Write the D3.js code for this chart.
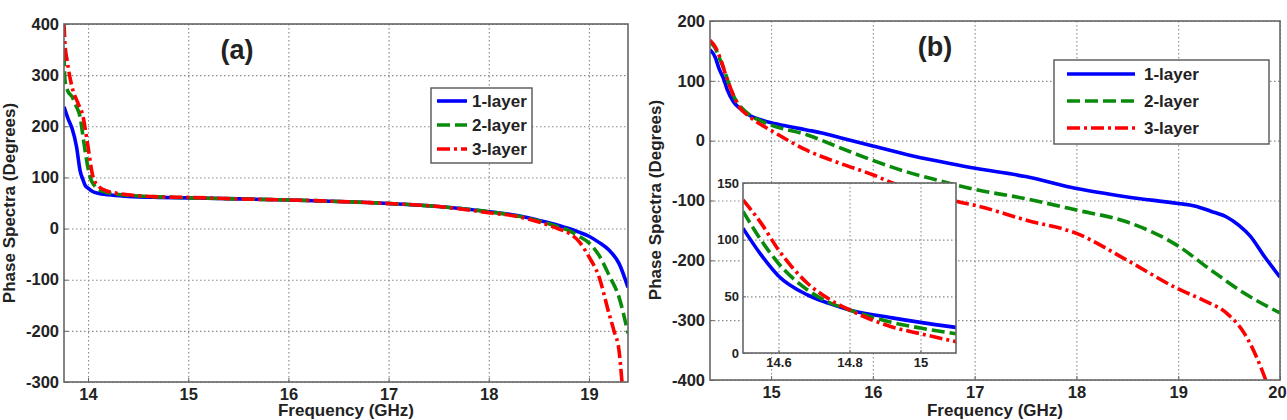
<!DOCTYPE html>
<html><head><meta charset="utf-8">
<script src="https://cdn.jsdelivr.net/npm/d3@7"></script>
<style>
html,body{margin:0;padding:0;background:#fff;}
svg{display:block;font-family:"Liberation Sans",Arial,sans-serif;font-weight:bold;}
</style></head>
<body><svg id="c" width="1287" height="420"></svg>
<script>
// ---------- DATA ----------
const seriesNames = ["1-layer", "2-layer", "3-layer"];

// Panel (a)
const freqA1 = [13.76,13.8,13.84,13.885,13.92,13.95,13.97,14.0,14.05,14.1,14.2,14.4,14.7,15.0,15.5,16.0,16.5,17.0,17.5,18.0,18.3,18.5,18.7,18.8,18.9,19.0,19.1,19.2,19.3,19.39];
const phaseA1 = [238,215,196,160,114,95,85,79,72,69,66,63,61,60,58,56,53,49,43,33,25,16,6,0,-7,-15,-27,-42,-68,-115];
const freqA2 = [13.76,13.77,13.8,13.84,13.88,13.92,13.95,13.97,14.0,14.02,14.06,14.1,14.2,14.4,14.7,15.0,15.5,16.0,16.5,17.0,17.5,18.0,18.3,18.5,18.7,18.8,18.9,19.0,19.1,19.2,19.3,19.39];
const phaseA2 = [343,290,268,258,240,219,180,153,118,101,85,77,70,65,62,60,58,56,53,49,43,33,24,15,3,-4,-15,-28,-52,-91,-134,-205];
const freqA3 = [13.76,13.77,13.79,13.84,13.9,13.95,13.98,14.0,14.05,14.11,14.18,14.26,14.4,14.7,15.0,15.5,16.0,16.5,17.0,17.5,18.0,18.3,18.5,18.7,18.8,18.9,19.0,19.1,19.2,19.25,19.3,19.33];
const phaseA3 = [400,360,330,277,245,219,185,160,101,82,74,70,66,62,61,58,56,53,49,43,31,23,13,-1,-9,-25,-55,-94,-166,-200,-238,-300];

// Panel (b)
const freqB1 = [14.4,14.45,14.49,14.53,14.57,14.63,14.7,14.79,14.9,15.0,15.2,15.35,15.5,15.68,16.0,16.33,16.66,16.96,17.5,18.0,18.5,19.0,19.16,19.32,19.48,19.6,19.71,19.84,20.0];
const phaseB1 = [152,140,120,105,85,65,53,42,35,30,23,18,13,5,-9,-23,-35,-45,-60,-80,-94,-105,-109,-118,-128,-142,-160,-192,-228];
const freqB2 = [14.4,14.45,14.5,14.53,14.58,14.63,14.7,14.79,14.9,15.0,15.35,15.68,16.0,16.33,16.66,16.96,17.5,18.0,18.5,18.99,19.32,19.65,20.0];
const phaseB2 = [165,155,135,123,98,75,57,43,33,26,10,-12,-33,-52,-67,-80,-97,-116,-136,-175,-216,-255,-288];
const freqB3 = [14.4,14.45,14.5,14.56,14.62,14.69,14.79,14.9,15.0,15.35,15.68,16.0,16.2,16.5,16.86,17.0,17.51,18.0,18.5,18.99,19.25,19.48,19.65,19.81,19.86];
const phaseB3 = [168,157,138,107,80,56,40,27,17,-16,-38,-57,-71,-86,-103,-108,-133,-155,-200,-247,-267,-289,-322,-378,-400];

// Inset of panel (b)
const freqI = [14.5,14.55,14.6,14.68,14.74,14.8,14.92,15.0,15.1];
const phaseI1 = [110,87,68,51.5,44,38,31,27,22.6];
const phaseI2 = [125,100,79,56,45,38,27,22,17];
const phaseI3 = [135,115,91,62,48,38,23,17,10];

// Ticks
const xTicksA = [14,15,16,17,18,19];
const yTicksA = [-300,-200,-100,0,100,200,300,400];
const xTicksB = [15,16,17,18,19,20];
const yTicksB = [-400,-300,-200,-100,0,100,200];
const xTicksI = [14.6,14.8,15];
const yTicksI = [0,50,100,150];

// ---------- STYLE ----------
const colors = ["#0000ff", "#0a8a0a", "#ff0000"];
const dashes = [null, "13,5", "13,4,3,4"];
const lw = 3.6;
const textCol = "#222";
const frameCol = "#666";
const gridCol = "#8a8a8a";
const fmt = d => String(d);

const svg = d3.select("#c");
const defs = svg.append("defs");
let clipId = 0;

function addLines(g, x, y, data, w, h) {
  const id = "clip" + (clipId++);
  defs.append("clipPath").attr("id", id).append("rect").attr("width", w).attr("height", h);
  const cg = g.append("g").attr("clip-path", `url(#${id})`);
  const line = d3.line().x(d => x(d[0])).y(d => y(d[1])).curve(d3.curveMonotoneX);
  data.forEach((s, i) => {
    cg.append("path").datum(s).attr("d", line).attr("fill", "none")
      .attr("stroke", colors[i]).attr("stroke-width", lw)
      .attr("stroke-dasharray", dashes[i]).attr("stroke-linejoin", "round");
  });
}

function panel(o) {
  const w = o.x1 - o.x0, h = o.y1 - o.y0;
  const g = svg.append("g").attr("transform", `translate(${o.x0},${o.y0})`);
  const x = d3.scaleLinear().domain(o.xd).range([0, w]);
  const y = d3.scaleLinear().domain(o.yd).range([h, 0]);
  g.append("rect").attr("width", w).attr("height", h).attr("fill", "#fff");
  // grid
  const gx = g.append("g").call(d3.axisBottom(x).tickValues(o.xt).tickSize(h).tickFormat(""));
  gx.select(".domain").remove();
  gx.selectAll("line").attr("stroke", gridCol).attr("stroke-dasharray", "1.5,2.5").attr("stroke-width", 1.1);
  const gy = g.append("g").call(d3.axisRight(y).tickValues(o.yt).tickSize(w).tickFormat(""));
  gy.select(".domain").remove();
  gy.selectAll("line").attr("stroke", gridCol).attr("stroke-dasharray", "1.5,2.5").attr("stroke-width", 1.1);
  // axes labels
  const ax = g.append("g").attr("transform", `translate(0,${h})`)
    .call(d3.axisBottom(x).tickValues(o.xt).tickSize(-o.tl).tickPadding(o.xpad).tickFormat(fmt));
  ax.select(".domain").remove();
  ax.selectAll("line").attr("stroke", frameCol);
  ax.selectAll("text").attr("fill", textCol).style("font-size", o.fs + "px").style("font-weight", "bold")
    .style("font-family", '"Liberation Sans",Arial,sans-serif');
  if (o.lastDx) ax.selectAll("text").filter((d, i, n) => i === n.length - 1).attr("dx", o.lastDx);
  const ay = g.append("g").call(d3.axisLeft(y).tickValues(o.yt).tickSize(-o.tl).tickPadding(o.ypad).tickFormat(fmt));
  ay.select(".domain").remove();
  ay.selectAll("line").attr("stroke", frameCol);
  ay.selectAll("text").attr("fill", textCol).style("font-size", o.fs + "px").style("font-weight", "bold")
    .style("font-family", '"Liberation Sans",Arial,sans-serif');
  addLines(g, x, y, o.data, w, h);
  g.append("rect").attr("width", w).attr("height", h).attr("fill", "none")
    .attr("stroke", frameCol).attr("stroke-width", 1.6);
  return {g, x, y, w, h};
}

function legend(lx, ly, lw2, lh, rows, lineX0, lineX1, textX) {
  const g = svg.append("g");
  g.append("rect").attr("x", lx).attr("y", ly).attr("width", lw2).attr("height", lh)
    .attr("fill", "#fff").attr("stroke", "#555").attr("stroke-width", 1.4);
  seriesNames.forEach((n, i) => {
    g.append("line").attr("x1", lineX0).attr("x2", lineX1).attr("y1", rows[i]).attr("y2", rows[i])
      .attr("stroke", colors[i]).attr("stroke-width", lw).attr("stroke-dasharray", dashes[i]);
    g.append("text").attr("x", textX).attr("y", rows[i]).attr("dy", "0.36em")
      .attr("fill", textCol).style("font-size", "17px").text(n);
  });
}

// ---------- PANEL (a) ----------
const A = panel({x0: 64, x1: 628, y0: 24, y1: 382, xd: [13.76, 19.39], yd: [-300, 400],
  xt: xTicksA, yt: yTicksA, tl: 4, fs: 16.5, xpad: 6, ypad: 5,
  data: [d3.zip(freqA1, phaseA1), d3.zip(freqA2, phaseA2), d3.zip(freqA3, phaseA3)]});
svg.append("text").attr("x", 237).attr("y", 59).attr("text-anchor", "middle")
  .attr("fill", textCol).style("font-size", "27px").text("(a)");
legend(431, 88, 101, 75, [101, 125, 149], 437, 467, 472);
svg.append("text").attr("x", 346).attr("y", 415.5).attr("text-anchor", "middle")
  .attr("fill", textCol).style("font-size", "17px").text("Frequency (GHz)");
svg.append("text").attr("transform", "translate(15,203) rotate(-90)").attr("text-anchor", "middle")
  .attr("fill", textCol).style("font-size", "17px").text("Phase Spectra (Degrees)");

// ---------- PANEL (b) ----------
const B = panel({x0: 710, x1: 1280, y0: 21, y1: 380, xd: [14.4, 20], yd: [-400, 200],
  xt: xTicksB, yt: yTicksB, tl: 4, fs: 16.5, xpad: 6, ypad: 5, lastDx: -3,
  data: [d3.zip(freqB1, phaseB1), d3.zip(freqB2, phaseB2), d3.zip(freqB3, phaseB3)]});
svg.append("text").attr("x", 935).attr("y", 56).attr("text-anchor", "middle")
  .attr("fill", textCol).style("font-size", "27px").text("(b)");
legend(1054, 60, 215, 84, [74, 101, 128], 1067, 1135, 1144);
svg.append("text").attr("x", 995).attr("y", 415.5).attr("text-anchor", "middle")
  .attr("fill", textCol).style("font-size", "17px").text("Frequency (GHz)");
svg.append("text").attr("transform", "translate(661,200) rotate(-90)").attr("text-anchor", "middle")
  .attr("fill", textCol).style("font-size", "17px").text("Phase Spectra (Degrees)");

// ---------- INSET ----------
panel({x0: 743, x1: 956, y0: 183, y1: 353, xd: [14.5, 15.1], yd: [0, 150],
  xt: xTicksI, yt: yTicksI, tl: 3, fs: 13, xpad: 5, ypad: 4,
  data: [d3.zip(freqI, phaseI1), d3.zip(freqI, phaseI2), d3.zip(freqI, phaseI3)]});
</script></body></html>
